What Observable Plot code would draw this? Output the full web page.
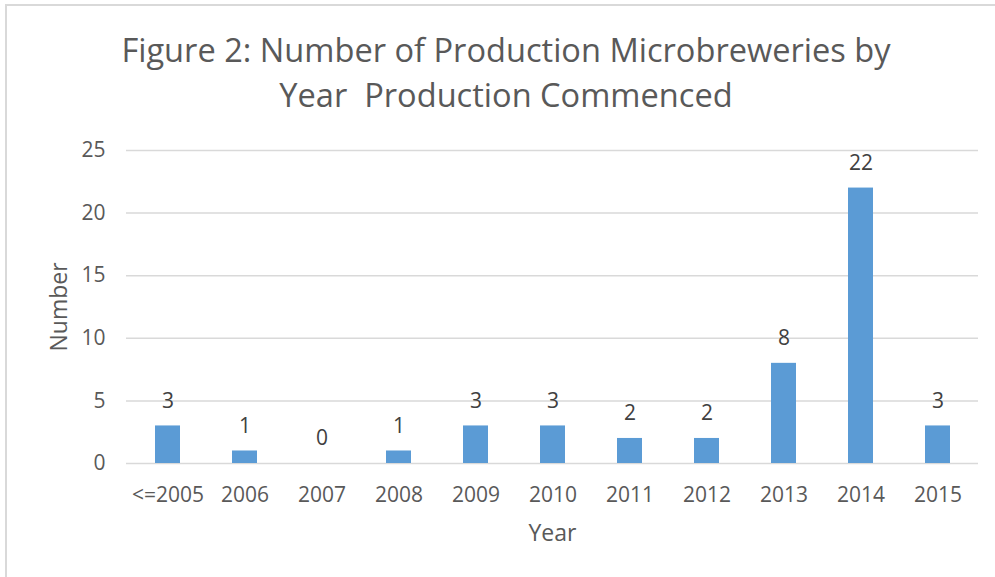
<!DOCTYPE html>
<html>
<head>
<meta charset="utf-8">
<script src="https://cdn.jsdelivr.net/npm/d3@7"></script>
<script src="https://cdn.jsdelivr.net/npm/@observablehq/plot@0.6"></script>
<style>
  html, body { margin: 0; padding: 0; background: #fff; }
  body { width: 995px; height: 577px; position: relative; overflow: hidden; font-family: "Open Sans", sans-serif; }
  #frame { position: absolute; left: 5px; top: 4px; width: 1200px; height: 800px; border-left: 2px solid #d9d9d9; border-top: 2px solid #d9d9d9; }
  #title { position: absolute; left: 0; top: 0; width: 1012px; height: 130px; text-align: center; color: #595959; font-size: 32.6px; line-height: 45px; padding-top: 27px; box-sizing: border-box; white-space: pre; }
  #chart { position: absolute; left: 0; top: 130px; }
</style>
</head>
<body>
<div id="frame"></div>
<div id="title">Figure 2: Number of Production Microbreweries by
Year  Production Commenced</div>
<div id="chart"></div>
<script>
const categories = ["<=2005", "2006", "2007", "2008", "2009", "2010", "2011", "2012", "2013", "2014", "2015"];
const values = [3, 1, 0, 1, 3, 3, 2, 2, 8, 22, 3];
const yTicks = [0, 5, 10, 15, 20, 25];

const data = categories.map((c, i) => ({year: c, n: values[i]}));

const chart = Plot.plot({
  width: 995,
  height: 447,
  marginTop: 20,
  marginBottom: 114,
  marginLeft: 126,
  marginRight: 17,
  style: {fontFamily: "Open Sans, sans-serif", fontSize: "21px", color: "#595959", background: "transparent"},
  x: {domain: categories, paddingInner: 0.68, paddingOuter: 0.34},
  y: {domain: [0, 25]},
  marks: [
    Plot.ruleY(yTicks, {stroke: "#d9d9d9", strokeWidth: 1.5}),
    Plot.barY(data, {x: "year", y: "n", fill: "#5b9bd5"}),
    Plot.text(data, {x: "year", y: "n", text: d => String(d.n), dy: -25, fill: "#404040", fontSize: 21}),
    Plot.axisX({tickSize: 0, tickPadding: 24, fontSize: 21, fill: "#595959", label: null}),
    Plot.axisX({tickSize: 0, ticks: [], fontSize: 23, fill: "#595959", label: "Year", labelAnchor: "center", labelOffset: 77, labelArrow: false}),
    Plot.axisY({ticks: yTicks, tickSize: 0, tickPadding: 21, fontSize: 21, fill: "#595959", label: null}),
    Plot.axisY({ticks: [], tickSize: 0, fontSize: 23, fill: "#595959", label: "Number", labelAnchor: "center", labelOffset: 76, labelArrow: false})
  ]
});
document.getElementById("chart").appendChild(chart);
</script>
</body>
</html>
